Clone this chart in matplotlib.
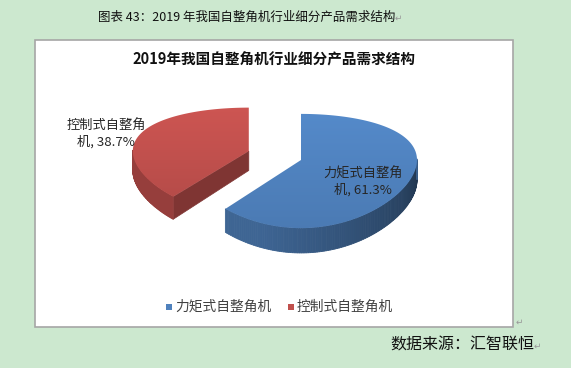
import numpy as np
import matplotlib
matplotlib.use('Agg')
import matplotlib.pyplot as plt
from matplotlib.patches import Polygon, Rectangle

plt.rcParams['font.family'] = ['Noto Sans CJK SC', 'DejaVu Sans']

# data
names = ['力矩式自整角机', '控制式自整角机']
label_names = ['力矩式自整角\n机', '控制式自整角\n机']
shares = [61.3, 38.7]
explode = [0.0, 0.48]
base_cols = [(79, 129, 189), (192, 80, 77)]

page_title = '图表 43：2019 年我国自整角机行业细分产品需求结构'
chart_title = '2019年我国自整角机行业细分产品需求结构'
source = '数据来源：汇智联恒'

# pie geometry (pixels)
CX, CY = 301, 160
A, B = 116, 55
P = 0.193
DEPTH = 20


def proj(u, v, z=0.0):
    w = 1 + P * v
    return CX + A * u, CY - B * v / w + DEPTH * z / w


def shade(rgb, f):
    return tuple(min(1, c * f / 255.) for c in rgb)


f = plt.figure(figsize=(5.71, 3.68), dpi=100)
f.patch.set_facecolor('#cce8cf')
ax = f.add_axes([0, 0, 1, 1])
ax.set_xlim(0, 571)
ax.set_ylim(368, 0)
ax.axis('off')

ax.add_patch(Rectangle((35, 40), 478, 287, facecolor='white', edgecolor='#a6a6a6', lw=1.2, zorder=0))

ax.text(98, 17, page_title, ha='left', va='center', fontsize=9.0, color='#111111')
ax.text(395, 18, '↵', ha='left', va='center', fontsize=6.5, color='#999999', family=['DejaVu Sans'])
ax.text(274, 60, chart_title, ha='center', va='center', fontsize=10.5, fontweight='bold', color='#111111')

# slices, start at 12 o'clock, clockwise
cum = 90.0
slices = []
for i in range(len(shares)):
    t0 = cum
    t1 = cum - shares[i] / 100. * 360
    cum = t1
    slices.append((t0, t1))

order = [1, 0]
for i in order:
    t0, t1 = slices[i]
    mid = np.radians((t0 + t1) / 2)
    du, dv = explode[i] * np.cos(mid), explode[i] * np.sin(mid)
    th = np.radians(np.linspace(t1, t0, 200))
    col = base_cols[i]

    # radial faces
    for te, nrm in [(t1, t1 - 90), (t0, t0 + 90)]:
        if np.sin(np.radians(nrm)) < -0.05:
            r = np.radians(te)
            ru, rv = du + np.cos(r), dv + np.sin(r)
            pts = [proj(du, dv, 0), proj(ru, rv, 0), proj(ru, rv, 1), proj(du, dv, 1)]
            ax.add_patch(Polygon(pts, closed=True, facecolor=shade(col, 0.66), edgecolor=shade(col, 0.66), lw=0.5, zorder=2))

    # outer side, front part only
    for k in range(len(th) - 1):
        a0, a1 = th[k], th[k + 1]
        if np.sin((a0 + a1) / 2) > 0.02:
            continue
        deg = np.degrees((a0 + a1) / 2) % 360
        fac = np.clip(0.42 + 0.43 * (360 - deg) / 131., 0.42, 0.78)
        u0, v0 = du + np.cos(a0), dv + np.sin(a0)
        u1, v1 = du + np.cos(a1), dv + np.sin(a1)
        pts = [proj(u0, v0, 0), proj(u1, v1, 0), proj(u1, v1, 1), proj(u0, v0, 1)]
        c = shade(col, fac)
        ax.add_patch(Polygon(pts, closed=True, facecolor=c, edgecolor=c, lw=0.6, zorder=3))

    # top face with soft gradient
    top = [proj(du, dv)] + [proj(du + np.cos(t), dv + np.sin(t)) for t in th]
    poly = Polygon(top, closed=True, facecolor='none', edgecolor='none', zorder=4)
    ax.add_patch(poly)
    xs = [p[0] for p in top]
    ys = [p[1] for p in top]
    y0, y1 = min(ys), max(ys)
    g = np.linspace(1.07, 0.95, 64)
    img = np.array([[shade(col, gg)] * 2 for gg in g])
    im = ax.imshow(img, extent=(min(xs) - 1, max(xs) + 1, y1 + 1, y0 - 1), origin='upper', aspect='auto', zorder=4, interpolation='bilinear')
    im.set_clip_path(poly)

# data labels
lab_pos = [(363, 182), (106, 134)]
for i in range(len(shares)):
    ax.text(lab_pos[i][0], lab_pos[i][1], label_names[i] + ', %.1f%%' % shares[i], ha='center', va='center',
            fontsize=9.5, color='#262626', linespacing=1.25, zorder=6)

ax.set_xlim(0, 571)
ax.set_ylim(368, 0)

# legend
leg_x = [166, 288]
for i in range(len(names)):
    ax.add_patch(Rectangle((leg_x[i], 304), 6, 6, facecolor=shade(base_cols[i], 1.0), edgecolor='none', zorder=5))
    ax.text(leg_x[i] + 9, 307, names[i], ha='left', va='center', fontsize=9.9, color='#404040')

ax.text(516, 322, '↵', ha='left', va='center', fontsize=6.5, color='#999999', family=['DejaVu Sans'])
ax.text(390, 345, source, ha='left', va='center', fontsize=11.5, color='#111111')
ax.text(534, 346, '↵', ha='left', va='center', fontsize=6.5, color='#999999', family=['DejaVu Sans'])

f.savefig('out.png', dpi=100, facecolor=f.get_facecolor())
